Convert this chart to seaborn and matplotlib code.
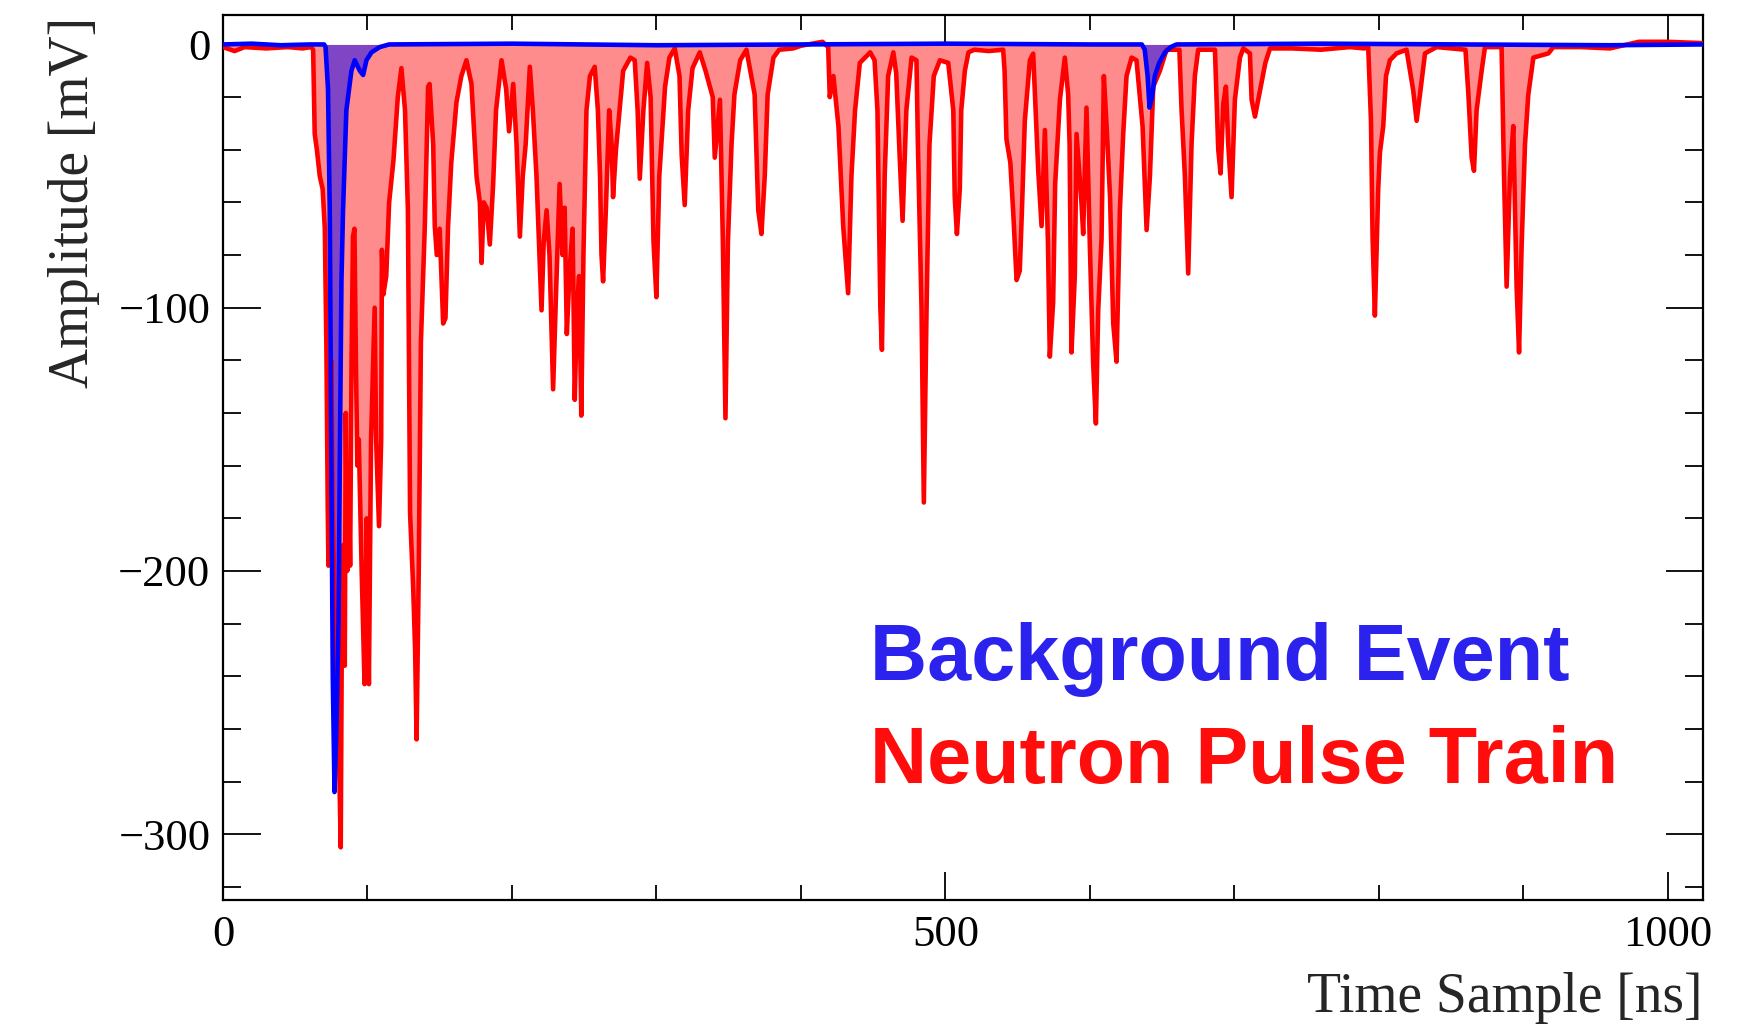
import matplotlib
matplotlib.use("Agg")
import matplotlib.pyplot as plt
from matplotlib.ticker import MultipleLocator
import seaborn as sns
import pandas as pd

# ---------------- data ----------------
red_t = [0, 8, 15, 30, 45, 55, 61,
         62.4, 63.5, 65, 67, 69, 70.5, 71.6, 72.5, 73, 74, 75, 76, 78, 80, 81.5, 82.5, 83.5, 84.3, 85, 86, 87, 88, 89,
         90, 91, 92, 93, 94, 96, 98, 99.5, 101, 102.5, 103.5, 105, 106, 108, 109.5, 110, 111, 113, 115, 118, 121,
         123.5, 126, 128, 129.5, 131.7, 133, 134, 135.5, 137, 139.7, 142, 143, 145.5, 146.6, 148, 150, 152.4, 154,
         155.8, 158, 161.6, 165, 168.5, 172, 175.5, 177.8, 179, 180.5, 182.5, 184.7, 187, 189, 192.8, 196, 198,
         200.9, 203.2, 205.5, 207.5, 209.5, 212.4, 214.5, 217, 220.5, 222, 224, 226, 228.5, 230.5, 233, 235, 236.5,
         238, 240, 242, 243.5, 245, 246.5, 248, 249.5, 251.6, 254, 257.3, 259.5, 261, 262, 263.1, 265, 267.3, 269,
         270, 272, 274.5, 277, 282, 285, 287, 288.5, 291, 293.6, 296, 298, 300, 302, 306, 309, 312.7, 316, 317.5,
         319.6, 322, 325, 330, 334, 339, 340.4, 344, 346, 347.8, 349.5, 352, 354, 358, 362.3, 368, 370.5, 372.7,
         375, 377, 381, 385, 394.7, 400, 410, 415, 418.9, 420, 422.5, 426, 429.3, 432.7, 435, 437.5, 440.8, 448,
         451, 453, 455, 456.1, 458, 460.4, 464, 466, 468.5, 470.4, 473, 476.6, 480, 481, 483.5, 485.1, 487, 489,
         492, 496.2, 502, 505.5, 506.5, 508, 510, 511, 513.5, 516, 520, 530, 540, 541, 542.3, 545, 547, 549.3,
         551.5, 553, 555, 558.5, 560.8, 564.3, 566.6, 568.9, 571, 572.3, 574.6, 576, 579.3, 582.7, 585, 586, 587.3,
         589.6, 590.8, 594.2, 595.4, 597.7, 600, 602.3, 604.2, 605.8, 608.1, 609.7, 611.6, 614, 616.2, 618.5,
         620.8, 623.1, 625.4, 628.9, 632.3, 636.5, 639.3, 641.6, 643.9, 648.5, 653.1, 662, 663.5, 665.8, 668.1,
         670.4, 672.7, 675, 686.6, 688.9, 690.5, 692.4, 694.2, 695.8, 698.1, 700.4, 703.9, 706.2, 710.8, 712,
         714.3, 717.9, 721.5, 724.7, 740, 760, 780, 790, 792.7, 794.6, 795.7, 797.3, 799.6, 800.8, 803.1, 805,
         807.7, 812.3, 819.2, 823.8, 826.2, 828.5, 832, 840, 860, 862, 864.3, 865.9, 867.7, 871.2, 873.5, 885,
         886.7, 888.5, 890.8, 893.1, 895.4, 897.1, 898.9, 901.2, 903.5, 907, 917.4, 920.8, 940, 960, 980, 1000,
         1024]
red_amp = [-1, -2.5, -1, -1.5, -1, -1.5, -1,
           -2, -34, -40, -50, -55, -70, -116, -175, -198, -160, -120, -180, -230, -260, -305, -200, -190, -236, -140,
           -200, -160, -198, -120,
           -73, -70, -120, -160, -150, -200, -243, -180, -243, -150, -130, -100, -150, -183, -150, -78, -95, -88,
           -60, -44, -20,
           -9, -25, -63, -178, -207, -230, -264, -200, -113, -69, -16, -15, -38, -69, -80, -70, -106, -104,
           -69, -45, -22, -12, -6, -15, -50, -60, -83, -60, -62, -76, -53, -25, -6, -17, -33,
           -15, -38, -73, -50, -38, -8.5, -25, -50, -101, -75, -63, -80, -131, -95, -53, -80, -62,
           -110, -85, -70, -135, -100, -88, -141, -80, -25, -12, -8.5, -25, -50, -80, -90, -63, -25, -38,
           -58, -40, -25, -10, -5, -6, -25, -51, -25, -7, -20, -75, -96, -50, -16, -5, -1.5, -12, -42,
           -61, -25, -9, -3, -10, -20, -43, -21, -75, -142, -75, -38, -19, -6, -2, -19, -63, -72,
           -50, -19, -5, -2, -1.5, -0.5, 0.5, 1, -1, -20, -12, -31, -69, -94.5, -50, -25, -7, -3,
           -6, -25, -100, -116, -50, -12, -3, -11, -44, -67, -25, -5, -6, -38, -100, -174, -100, -38,
           -12, -6, -7, -25, -58, -72, -55, -25, -10, -3, -2, -2.5, -2, -10, -36, -45, -64, -89.5,
           -86, -63, -29, -6, -3.5, -48, -69, -32.5, -75, -118.6, -98, -53, -21, -5, -19, -38, -117,
           -88, -34, -60, -72, -24, -76, -121, -144, -101, -74, -12, -31, -58, -106, -120.5,
           -63, -34, -12, -5, -6, -31, -70.5, -50, -16, -10, -2, -2, -25, -50, -87,
           -38, -12, -2, -2, -40, -49, -22.4, -16, -38, -58, -21, -5, -1.5, -3.4, -21,
           -27.4, -17.3, -7, -1.5, -1.5, -2, -1, -1.5, -1, -29, -73, -103, -55, -41, -31, -12,
           -6, -3.4, -2, -17.3, -29, -19, -3.4, -1, -2, -18.6, -43, -48, -25, -10, -1, -1,
           -50, -92, -50, -31, -92, -117, -76, -38, -19, -5, -3.4, -1, -1, -1.5, 1, 1,
           0.5]

blue_t = [0, 20, 40, 60, 70, 71, 72.7, 73.9, 75, 76, 77.2, 78.5, 80, 81, 82, 83.1, 85.4, 88.9, 91.2, 94.7, 97,
          99.3, 102.8, 108.5, 115, 200, 300, 400, 500, 600, 636, 638, 640, 641.3, 643, 645, 648, 652, 656, 660,
          760, 860, 960, 1024]
blue_amp = [0, 0.3, -0.3, 0, 0, -1, -17, -63, -158, -240, -284, -260, -220, -150, -90, -63, -25, -10, -6, -10,
            -11.6, -6, -3, -1, 0, 0.3, -0.3, 0, 0.3, 0, 0, -2, -12, -24, -20, -12, -7, -3, -1, 0,
            0.3, 0, -0.3, 0]

x_ticks = [0, 500, 1000]
y_ticks = [0, -100, -200, -300]
x_label = "Time Sample [ns]"
y_label = "Amplitude [mV]"
legend_texts = ["Background Event", "Neutron Pulse Train"]

red_df = pd.DataFrame({"t": red_t, "amp": red_amp})
blue_df = pd.DataFrame({"t": blue_t, "amp": blue_amp})

# ---------------- figure ----------------
sns.set_theme(style="ticks")
plt.rcParams["font.family"] = ["Liberation Serif", "DejaVu Serif"]
plt.rcParams["axes.unicode_minus"] = True

fig = plt.figure(figsize=(17.42, 10.26), dpi=100)
ax = fig.add_axes([0.128, 0.1228, 0.8496, 0.8621])

RED = "#ff0000"
BLUE = "#0000ff"

ax.fill_between(red_df["t"], red_df["amp"], 0, color=RED, alpha=0.45, linewidth=0, zorder=1)
sns.lineplot(data=red_df, x="t", y="amp", sort=False, estimator=None, color=RED, linewidth=3.3, ax=ax, zorder=3)
ax.fill_between(blue_df["t"], blue_df["amp"], 0, color=BLUE, alpha=0.5, linewidth=0, zorder=2)
sns.lineplot(data=blue_df, x="t", y="amp", sort=False, estimator=None, color=BLUE, linewidth=3.3, ax=ax, zorder=4)

ax.set_xlim(0, 1024.4)
ax.set_ylim(-325, 11)

ax.xaxis.set_major_locator(MultipleLocator(500))
ax.xaxis.set_minor_locator(MultipleLocator(100))
ax.yaxis.set_major_locator(MultipleLocator(100))
ax.yaxis.set_minor_locator(MultipleLocator(20))
ax.set_xticks(x_ticks)
ax.set_yticks(y_ticks)

ax.tick_params(which="both", direction="in", top=True, right=True, colors="black", width=1.3)
ax.tick_params(axis="x", which="major", length=20, labelsize=32, pad=11)
ax.tick_params(axis="x", which="minor", length=11)
ax.tick_params(axis="y", which="major", length=27, labelsize=32, pad=9)
ax.tick_params(axis="y", which="minor", length=13)

for s in ax.spines.values():
    s.set_linewidth(1.6)
    s.set_color("black")

ax.set_xlabel(x_label, fontsize=40, loc="right", labelpad=12)
ax.set_ylabel("")
fig.text(74 / 1742, 1 - 17 / 1026, y_label, rotation=90, ha="center", va="top", fontsize=40,
         family=["Liberation Serif", "DejaVu Serif"])

ax.text(0.437, 0.2487, legend_texts[0], transform=ax.transAxes, ha="left", va="baseline",
        fontsize=57, fontweight="bold", color="#2b22ee", family=["Liberation Sans", "DejaVu Sans"])
ax.text(0.437, 0.132, legend_texts[1], transform=ax.transAxes, ha="left", va="baseline",
        fontsize=57, fontweight="bold", color="#ff0d0d", family=["Liberation Sans", "DejaVu Sans"])

ax.set_facecolor("white")
fig.patch.set_facecolor("white")
fig.savefig("out.png", dpi=100)
